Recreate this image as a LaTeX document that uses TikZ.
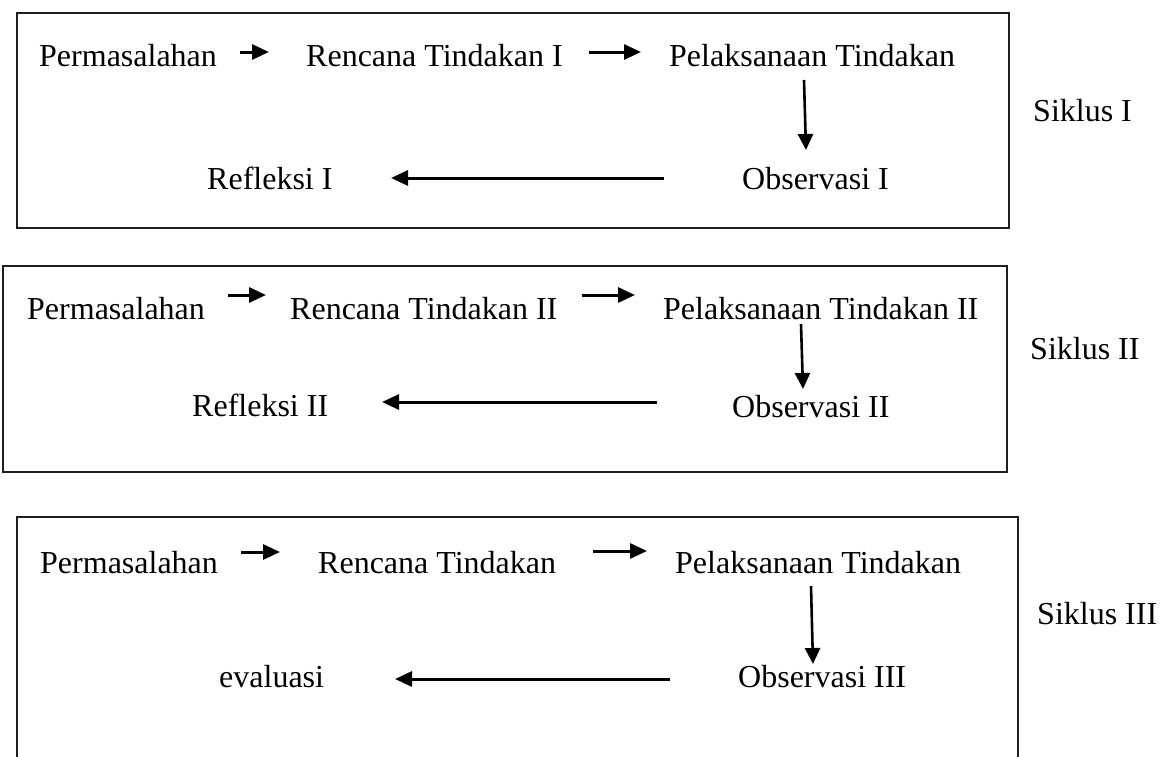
\documentclass[tikz,border=0pt]{standalone}
\usepackage{fontspec}
\setmainfont{Liberation Serif}
\usetikzlibrary{arrows.meta}
\begin{document}
\begin{tikzpicture}[x=1pt,y=-1pt,
  txt/.style={anchor=base west,inner sep=0pt,font=\fontsize{32}{38}\selectfont},
  frame/.style={draw=black!88,line width=2.2pt},
  harrow/.style={line width=3pt,-{Triangle[length=17pt,width=15pt]}},
  varrow/.style={line width=2.6pt,-{Triangle[length=16pt,width=15pt]}}]
\clip (0,0) rectangle (1163,756);
\useasboundingbox (0,0) rectangle (1163,756);
\fill[white] (0,0) rectangle (1163,756);

% ---------- Siklus I ----------
\draw[frame] (17,13) rectangle (1009,228);
\node[txt] (p1) at (39,66) {Permasalahan};
\node[txt] (r1) at (306,66) {Rencana Tindakan I};
\node[txt] (l1) at (669,66) {Pelaksanaan Tindakan};
\node[txt] (o1) at (742,189) {Observasi I};
\node[txt] (f1) at (207,189) {Refleksi I};
\node[txt] (s1) at (1033,121) {Siklus I};
\coordinate (a1s) at (240,52); \coordinate (a1e) at (269,52);
\coordinate (b1s) at (589,52); \coordinate (b1e) at (641,52);
\coordinate (c1s) at (804,80); \coordinate (c1e) at (806,150);
\coordinate (d1s) at (664,178); \coordinate (d1e) at (391,178);
\draw[harrow] (a1s) -- (a1e);
\draw[harrow] (b1s) -- (b1e);
\draw[varrow] (c1s) -- (c1e);
\draw[harrow] (d1s) -- (d1e);

% ---------- Siklus II ----------
\draw[frame] (3,266) rectangle (1007,472);
\node[txt] (p2) at (27,319) {Permasalahan};
\node[txt] (r2) at (290,319) {Rencana Tindakan II};
\node[txt] (l2) at (663,319) {Pelaksanaan Tindakan II};
\node[txt] (o2) at (732,417) {Observasi II};
\node[txt] (f2) at (192,416) {Refleksi II};
\node[txt] (s2) at (1030,359) {Siklus II};
\coordinate (a2s) at (228,295); \coordinate (a2e) at (266,295);
\coordinate (b2s) at (582,295); \coordinate (b2e) at (635,295);
\coordinate (c2s) at (801,324); \coordinate (c2e) at (803,389);
\coordinate (d2s) at (657,402); \coordinate (d2e) at (382,402);
\draw[harrow] (a2s) -- (a2e);
\draw[harrow] (b2s) -- (b2e);
\draw[varrow] (c2s) -- (c2e);
\draw[harrow] (d2s) -- (d2e);

% ---------- Siklus III ----------
\draw[frame] (17,517) rectangle (1018,790);
\node[txt] (p3) at (40,573) {Permasalahan};
\node[txt] (r3) at (318,573) {Rencana Tindakan};
\node[txt] (l3) at (675,573) {Pelaksanaan Tindakan};
\node[txt] (o3) at (738,687) {Observasi III};
\node[txt] (f3) at (219,687) {evaluasi};
\node[txt] (s3) at (1037,624) {Siklus III};
\coordinate (a3s) at (241,552); \coordinate (a3e) at (280,552);
\coordinate (b3s) at (593,551); \coordinate (b3e) at (647,551);
\coordinate (c3s) at (811,586); \coordinate (c3e) at (813,664);
\coordinate (d3s) at (670,679); \coordinate (d3e) at (395,679);
\draw[harrow] (a3s) -- (a3e);
\draw[harrow] (b3s) -- (b3e);
\draw[varrow] (c3s) -- (c3e);
\draw[harrow] (d3s) -- (d3e);
\end{tikzpicture}
\end{document}
